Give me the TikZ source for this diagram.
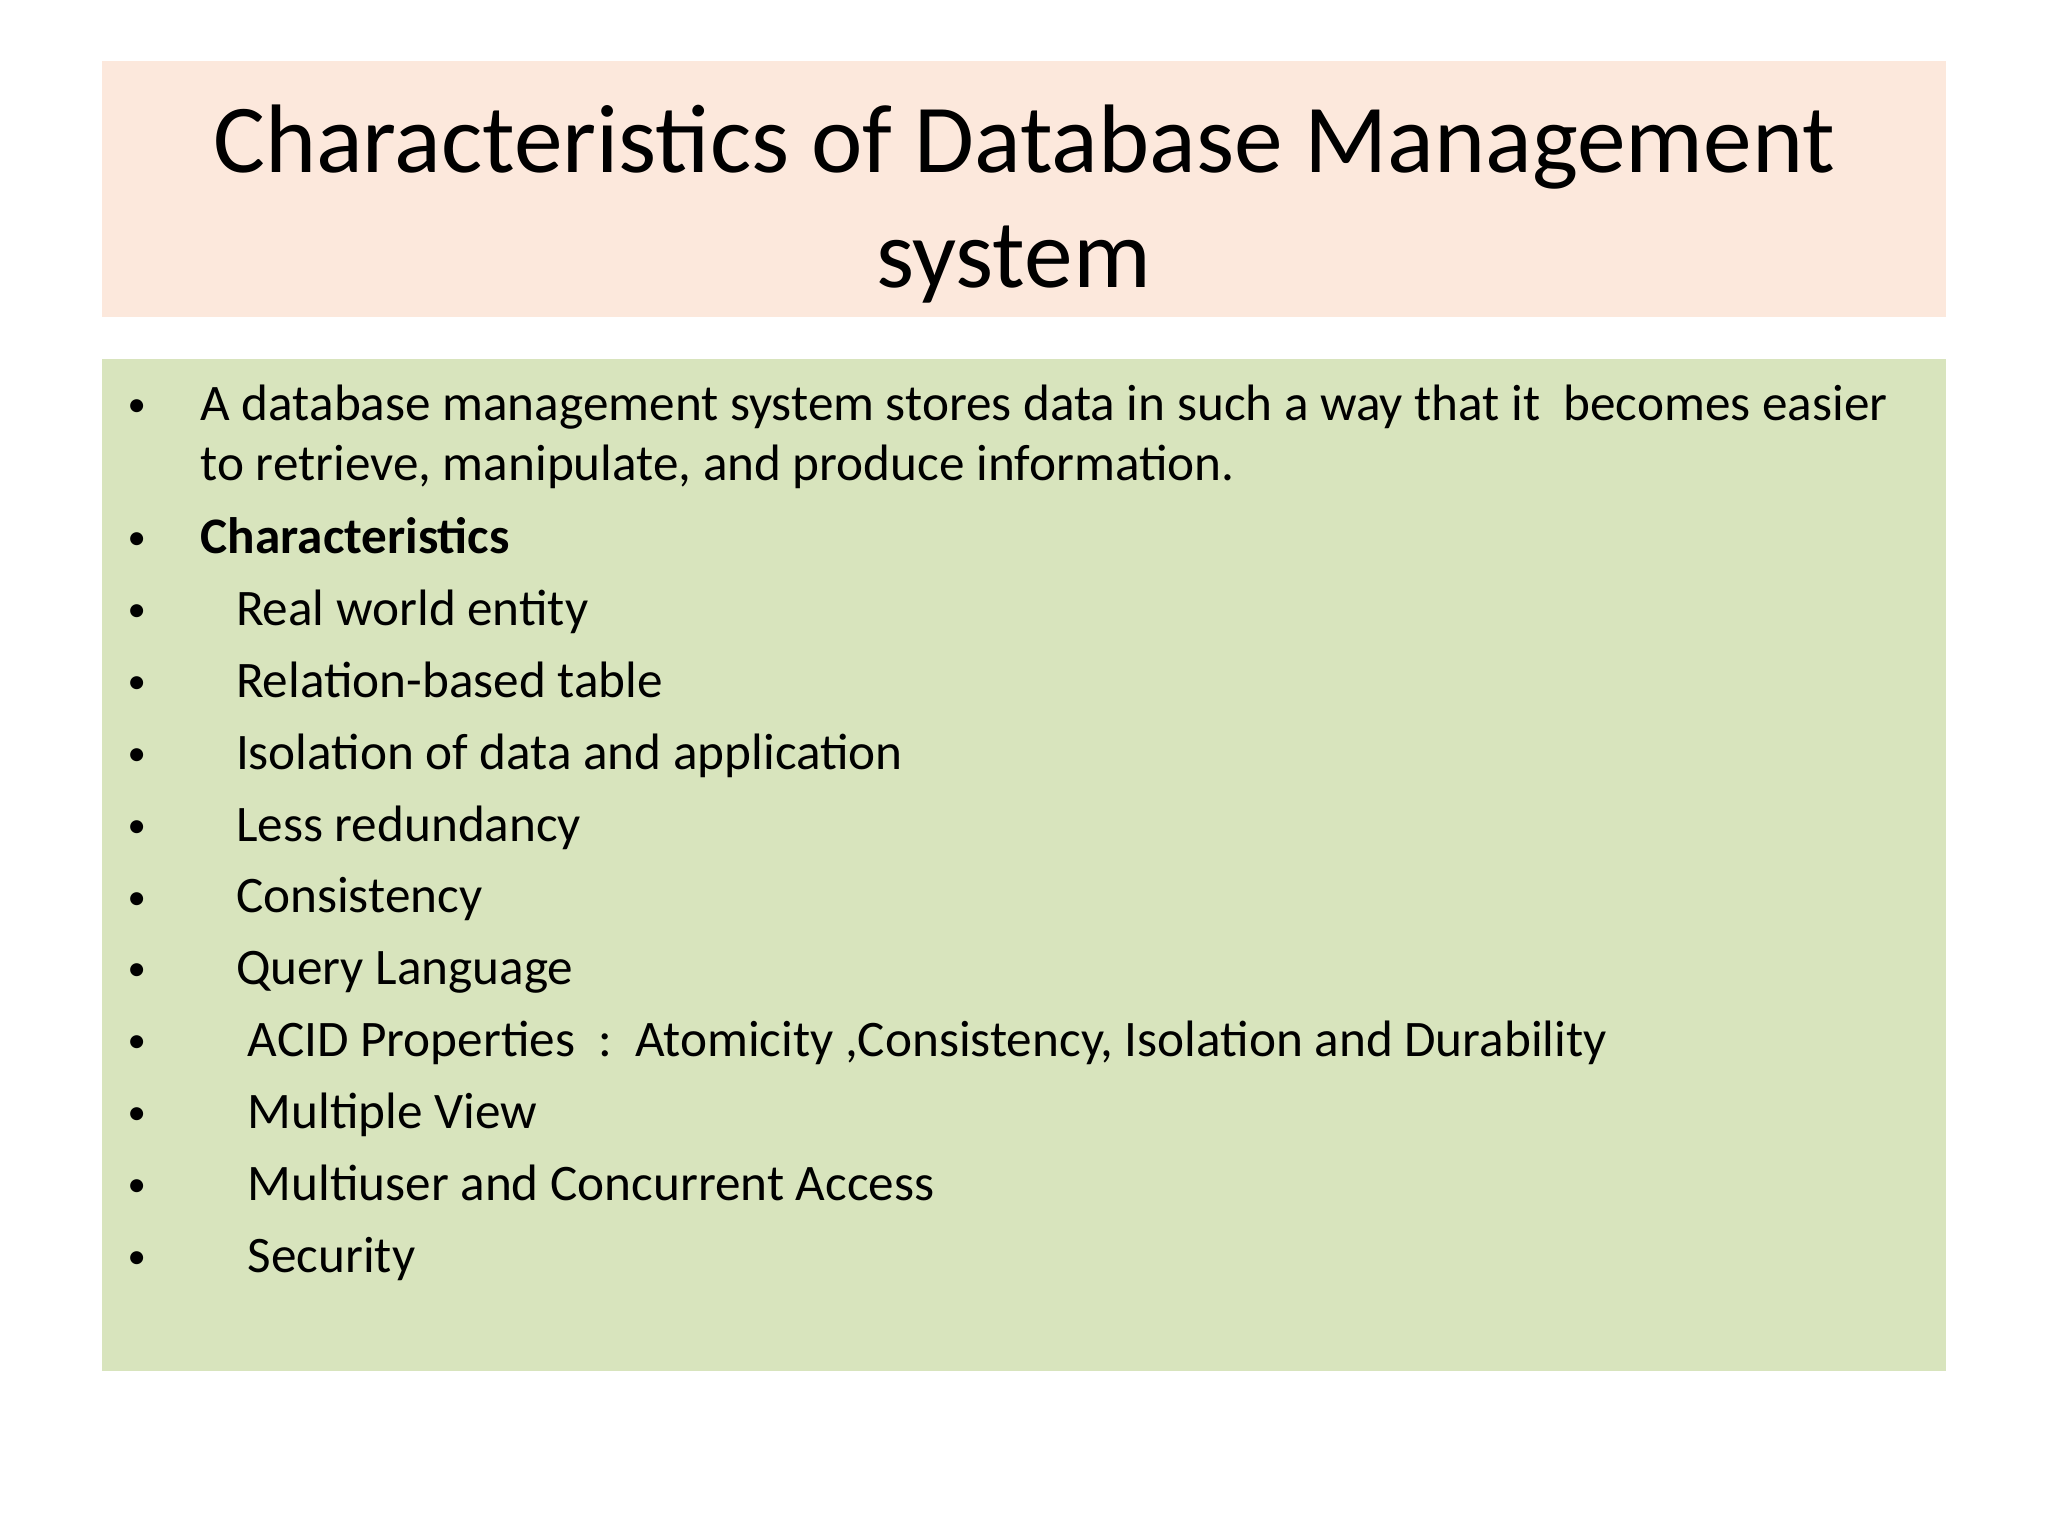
\documentclass[tikz,border=0pt]{standalone}
\usepackage{fontspec}
\setmainfont{Carlito}
\definecolor{titlebg}{HTML}{FCE8DC}
\definecolor{bodybg}{HTML}{D8E4BD}
\begin{document}
\begin{tikzpicture}[x=0.01cm,y=-0.01cm,
  txt/.style={anchor=base west,inner sep=0pt,font=\fontsize{11.15pt}{14pt}\selectfont},
  bul/.style={anchor=base west,inner sep=0pt,font=\fontsize{8pt}{10pt}\selectfont},
  ttl/.style={anchor=base,inner sep=0pt,font=\fontsize{21.2pt}{26pt}\selectfont}]
\useasboundingbox (0,0) rectangle (1568,1176);
\fill[white] (0,0) rectangle (1568,1176);
\fill[titlebg] (78,47) rectangle (1490,243);
\fill[bodybg] (78,275) rectangle (1490,1050);
\node[ttl] (t1) at (784,132) {Characteristics of Database Management};
\node[ttl] (t2) at (776,220) {system};
\foreach \y/\x/\t [count=\i] in {
 322/153/{A database management system stores data in such a way that it\ \ becomes easier},
 424/153/{\textbf{Characteristics}},
 479/180/{Real world entity},
 534/180/{Relation-based table},
 589/180/{Isolation of data and application},
 644/180/{Less redundancy},
 699/180/{Consistency},
 754/180/{Query Language},
 809/189/{ACID Properties\ \ :\ \ Atomicity ,Consistency, Isolation and Durability},
 864/189/{Multiple View},
 919/189/{Multiuser and Concurrent Access},
 974/189/{Security}}{
  \node[bul] (b\i) at (97,\y-3) {•};
  \node[txt] (l\i) at (\x,\y) {\t};
}
\node[txt] (l1b) at (153,368) {to retrieve, manipulate, and produce information.};
\end{tikzpicture}
\end{document}
